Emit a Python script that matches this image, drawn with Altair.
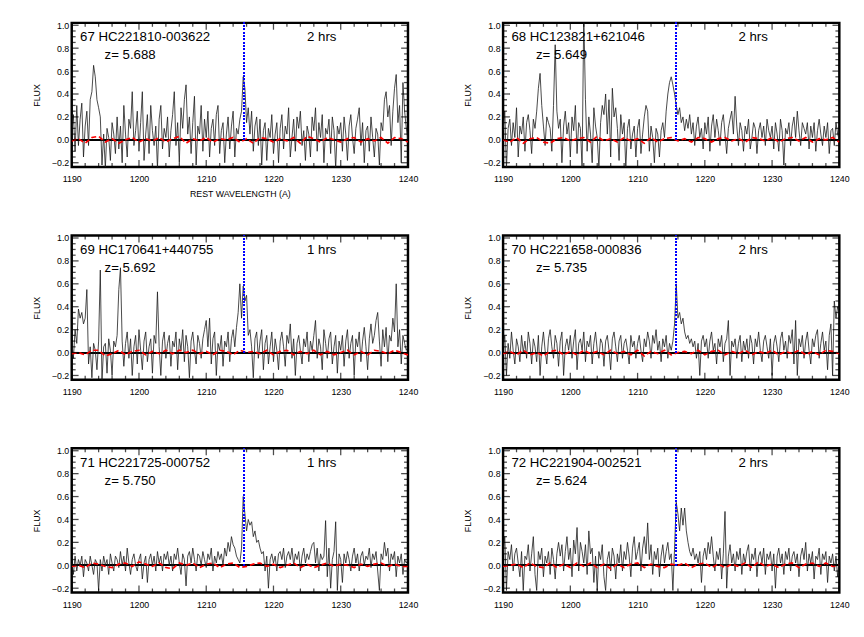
import altair as alt
import numpy as np
import pandas as pd

# ---------------- data ----------------
names = ["67 HC221810-003622", "68 HC123821+621046", "69 HC170641+440755",
         "70 HC221658-000836", "71 HC221725-000752", "72 HC221904-002521"]
redshifts = ["z= 5.688", "z= 5.649", "z= 5.692", "z= 5.735", "z= 5.750", "z= 5.624"]
hours = ["2 hrs", "2 hrs", "1 hrs", "2 hrs", "1 hrs", "2 hrs"]
lya = 1215.67

flux67 = [0.05, 0.22, -0.10, 0.30, -0.05, 0.18, 0.32, -0.15, 0.12, 0.25, -0.05, 0.35, 0.42, 0.65, 0.55, 0.35, 0.28, 0.20, -0.22, 0.05,
          -0.25, 0.10, 0.02, -0.18, 0.15, 0.05, -0.12, 0.20, -0.08, 0.12, -0.20, 0.30, 0.05, -0.15, 0.18, 0.10, 0.42, -0.05, 0.08, 0.25,
          -0.10, 0.15, 0.42, -0.18, 0.05, 0.22, -0.12, 0.30, 0.08, -0.05, 0.12, -0.25, 0.18, 0.30, -0.08, 0.10, 0.02, 0.20, -0.15, 0.08,
          0.22, 0.42, -0.05, 0.15, -0.20, 0.28, 0.10, 0.35, 0.48, 0.05, 0.20, -0.12, 0.15, 0.38, -0.22, 0.12, 0.05, 0.30, -0.10, 0.18,
          0.02, 0.25, -0.15, 0.10, 0.18, -0.05, 0.22, 0.30, -0.12, 0.08, 0.15, -0.20, 0.05, 0.20, -0.08, 0.12, 0.25, -0.15, 0.10, 0.05,
          0.18, 0.25, 0.55, 0.45, 0.15, 0.28, 0.05, 0.25, -0.10, 0.12, 0.20, -0.05, 0.18, -0.22, 0.08, 0.15, -0.18, 0.10, 0.02, 0.22,
          -0.12, 0.05, 0.15, -0.20, 0.10, 0.22, -0.08, 0.12, 0.05, 0.28, -0.15, 0.02, 0.18, -0.10, 0.20, 0.10, 0.25, -0.05, 0.08, -0.18,
          0.12, 0.05, -0.15, 0.20, 0.08, 0.28, -0.10, 0.15, 0.02, 0.22, -0.20, 0.10, 0.05, 0.18, -0.12, 0.20, 0.08, -0.25, 0.12, 0.05,
          0.15, -0.10, 0.20, 0.05, -0.18, 0.12, 0.22, 0.02, -0.12, 0.10, 0.18, 0.28, -0.05, 0.15, -0.20, 0.08, 0.12, -0.10, 0.20, 0.02,
          -0.15, 0.10, 0.05, -0.22, 0.15, 0.08, 0.35, 0.42, 0.20, 0.30, -0.05, 0.25, 0.45, 0.57, 0.15, 0.30, -0.20, 0.50, 0.25, 0.10,
          0.00]
flux68 = [0.08, 0.25, -0.25, 0.10, 0.18, -0.05, 0.15, 0.02, 0.28, -0.15, 0.12, 0.05, 0.20, -0.10, 0.15, 0.22, 0.08, -0.12, 0.18, 0.10,
          0.25, 0.45, 0.58, 0.30, 0.12, -0.05, 0.20, 0.15, 0.10, -0.10, 0.30, 0.83, 0.25, 0.10, 0.18, -0.20, 0.12, 0.25, 0.05, 0.15,
          -0.15, 0.20, 0.08, 0.30, -0.12, 0.15, 0.10, -0.25, 1.10, 0.35, -0.10, 0.20, 0.05, -0.20, 0.28, 0.12, 0.02, -0.25, 0.15, 0.30,
          0.22, 0.40, 0.05, 0.35, -0.15, 0.45, 0.20, 0.28, 0.10, -0.18, 0.22, 0.05, 0.15, -0.25, 0.10, 0.18, -0.08, 0.05, 0.12, -0.15,
          0.10, 0.18, -0.12, 0.05, 0.20, 0.30, 0.25, -0.10, 0.12, 0.02, -0.20, 0.10, 0.05, -0.15, 0.08, 0.15, 0.02, 0.25, 0.40, 0.50,
          0.55, 0.48, 0.40, 0.30, 0.22, 0.28, 0.15, 0.20, 0.08, 0.18, 0.10, 0.22, 0.05, 0.15, -0.05, 0.12, 0.20, 0.02, 0.10, -0.08,
          0.15, 0.05, 0.20, -0.10, 0.12, 0.22, 0.02, 0.18, 0.08, -0.05, 0.15, 0.22, 0.05, -0.12, 0.10, 0.18, 0.25, 0.05, 0.38, 0.12,
          -0.05, 0.15, 0.08, -0.10, 0.12, 0.05, 0.18, -0.08, 0.02, 0.15, 0.10, -0.12, 0.08, 0.15, 0.02, 0.12, -0.05, 0.18, 0.08, 0.02,
          0.12, -0.08, 0.15, 0.05, -0.10, 0.18, 0.08, -0.22, 0.10, 0.05, 0.15, -0.05, 0.12, 0.20, 0.02, 0.25, 0.08, -0.05, 0.15, 0.10,
          0.05, 0.15, -0.08, 0.12, 0.02, 0.15, -0.10, 0.08, 0.18, 0.05, -0.05, 0.12, 0.02, 0.15, -0.12, 0.08, 0.10, -0.05, 0.15, 0.05,
          0.00]
flux69 = [0.10, -0.05, 0.20, 0.08, 0.38, 0.30, 0.35, 0.25, 0.30, 0.55, -0.10, 0.05, -0.22, 0.08, 0.02, -0.15, 0.10, 0.72, -0.25, 0.05,
          0.08, -0.18, 0.12, 0.02, -0.20, 0.10, 0.05, 0.15, 0.55, 0.74, 0.10, -0.12, 0.08, 0.18, -0.05, 0.12, -0.20, 0.05, 0.15, -0.10,
          0.20, 0.02, -0.15, 0.10, 0.18, -0.08, 0.05, 0.12, -0.18, 0.15, 0.08, 0.53, 0.05, -0.20, 0.10, 0.18, -0.05, 0.08, 0.15, -0.12,
          0.10, 0.05, 0.18, -0.15, 0.12, 0.02, 0.20, -0.08, 0.15, 0.05, -0.22, 0.10, 0.18, 0.02, -0.10, 0.15, 0.08, -0.05, 0.12, 0.20,
          0.28, 0.05, 0.30, -0.10, 0.12, 0.18, -0.20, 0.08, 0.02, 0.15, -0.12, 0.10, 0.05, 0.18, -0.08, 0.12, 0.20, 0.05, 0.22, 0.35,
          0.60, 0.30, 0.58, 0.45, 0.50, 0.15, 0.20, 0.05, -0.22, 0.12, 0.18, -0.05, 0.10, 0.20, -0.15, 0.08, 0.15, -0.10, 0.05, 0.18,
          -0.08, 0.12, 0.02, -0.15, 0.10, 0.18, 0.05, -0.12, 0.15, 0.08, 0.25, -0.05, 0.12, -0.20, 0.08, 0.15, 0.02, -0.10, 0.12, 0.05,
          0.18, -0.08, 0.10, 0.02, 0.15, 0.28, -0.05, 0.12, 0.05, -0.15, 0.20, 0.08, -0.05, 0.12, 0.18, -0.10, 0.05, 0.15, -0.18, 0.10,
          0.02, 0.15, -0.12, 0.10, 0.20, -0.05, 0.08, 0.15, -0.20, 0.12, 0.05, 0.18, -0.08, 0.10, 0.22, 0.05, -0.15, 0.12, 0.25, 0.08,
          0.15, 0.28, 0.35, 0.10, -0.12, 0.20, 0.05, 0.22, -0.08, 0.15, 0.10, 0.30, 0.18, 0.60, 0.05, 0.20, -0.10, 0.15, 0.08, 0.02,
          0.05]
flux70 = [0.05, 0.15, -0.20, 0.08, -0.05, 0.18, 0.02, -0.10, 0.12, 0.05, -0.08, 0.15, 0.00, 0.10, -0.05, 0.18, 0.08, -0.10, 0.12, 0.05,
          -0.08, 0.15, -0.20, 0.05, 0.18, 0.02, -0.10, 0.12, 0.20, 0.05, -0.05, 0.15, 0.08, -0.12, 0.10, 0.18, -0.20, 0.05, 0.12, 0.02,
          0.15, -0.05, 0.10, 0.20, -0.15, 0.08, 0.12, 0.02, 0.18, -0.08, 0.10, 0.05, 0.15, -0.10, 0.08, 0.18, 0.02, -0.05, 0.12, 0.08,
          -0.12, 0.10, 0.15, 0.02, -0.15, 0.12, 0.18, 0.05, -0.08, 0.10, 0.15, -0.05, 0.08, 0.12, 0.02, -0.10, 0.15, 0.05, 0.10, -0.05,
          0.08, 0.15, 0.02, -0.08, 0.12, 0.05, 0.18, 0.10, -0.05, 0.15, 0.08, 0.20, 0.02, 0.10, -0.08, 0.12, 0.05, 0.15, -0.05, 0.08,
          0.02, 0.10, 0.25, 0.60, 0.30, 0.35, 0.25, 0.30, 0.18, 0.12, 0.15, 0.08, 0.12, 0.05, 0.10, -0.05, 0.08, -0.20, 0.10, 0.15,
          0.05, 0.12, -0.05, 0.10, 0.18, 0.02, 0.08, -0.10, 0.12, 0.05, 0.15, -0.08, 0.08, 0.12, 0.28, -0.20, 0.10, 0.05, 0.12, -0.05,
          0.08, 0.15, -0.08, 0.10, 0.02, 0.12, -0.05, 0.15, 0.08, -0.10, 0.12, 0.05, 0.18, 0.02, -0.08, 0.10, 0.15, 0.05, -0.05, 0.12,
          -0.20, 0.08, 0.15, 0.05, -0.08, 0.12, 0.18, 0.02, 0.10, -0.05, 0.15, 0.08, 0.20, -0.10, 0.28, -0.20, 0.12, 0.05, 0.15, -0.05,
          0.10, 0.18, 0.02, -0.10, 0.12, 0.05, 0.15, 0.20, -0.05, 0.08, 0.18, 0.02, 0.10, -0.15, 0.15, 0.25, -0.20, 0.45, 0.30, 0.40,
          0.35]
flux71 = [0.02, -0.08, 0.08, -0.05, 0.05, 0.00, 0.08, -0.10, 0.05, 0.02, -0.05, 0.08, 0.00, -0.08, 0.05, 0.02, -0.22, 0.05, -0.05, 0.08,
          0.00, 0.05, -0.08, 0.10, 0.02, -0.05, 0.08, 0.05, -0.02, 0.12, 0.00, 0.08, -0.05, 0.15, 0.02, -0.08, 0.05, 0.10, 0.00, -0.05,
          0.05, 0.10, -0.12, 0.02, 0.08, -0.15, 0.05, 0.10, 0.00, 0.08, -0.05, 0.12, 0.02, 0.08, -0.05, 0.10, 0.05, 0.12, 0.00, 0.08,
          -0.05, 0.10, 0.05, 0.15, 0.02, -0.08, 0.10, 0.05, -0.18, 0.08, 0.12, 0.02, 0.15, 0.05, -0.05, 0.10, 0.08, 0.00, 0.12, 0.05,
          -0.02, 0.10, 0.05, 0.15, -0.05, 0.08, 0.02, 0.12, 0.05, 0.10, 0.00, 0.15, 0.08, 0.20, 0.12, 0.25, 0.18, 0.15, 0.08, 0.05,
          0.02, 0.15, 0.60, 0.45, 0.30, 0.40, 0.35, 0.38, 0.25, 0.30, 0.20, 0.22, 0.15, 0.10, 0.12, -0.05, 0.08, -0.20, 0.05, 0.10,
          0.02, 0.08, -0.05, 0.10, 0.12, 0.05, 0.15, -0.02, 0.08, 0.12, 0.05, 0.15, 0.00, 0.10, 0.05, 0.12, -0.05, 0.08, 0.15, 0.02,
          0.10, 0.05, 0.12, 0.18, 0.20, 0.02, 0.15, -0.05, 0.10, 0.05, 0.08, 0.39, -0.10, 0.15, -0.20, 0.05, 0.12, 0.38, -0.22, 0.10,
          0.05, -0.15, 0.10, 0.02, 0.12, 0.05, -0.05, 0.08, 0.15, 0.02, 0.10, -0.05, 0.08, 0.12, 0.00, 0.08, 0.05, 0.15, -0.02, 0.10,
          0.05, 0.12, -0.05, -0.22, 0.10, 0.05, 0.20, 0.08, 0.15, -0.05, 0.10, 0.05, 0.12, -0.10, 0.08, 0.02, 0.10, -0.08, 0.05, 0.02,
          0.05]
flux72 = [0.10, 0.25, -0.22, 0.12, 0.05, 0.18, -0.05, 0.10, 0.15, 0.02, -0.10, 0.12, -0.22, 0.08, 0.05, 0.18, -0.05, 0.10, 0.25, -0.08,
          -0.22, 0.12, 0.05, 0.15, -0.10, 0.08, 0.02, 0.12, -0.08, 0.15, 0.05, -0.12, 0.10, 0.20, 0.08, 0.18, -0.05, 0.12, 0.25, 0.05,
          0.15, -0.10, 0.22, 0.10, 0.33, -0.05, 0.20, 0.12, 0.02, 0.18, -0.08, 0.30, 0.10, 0.15, -0.15, 0.08, -0.22, 0.12, 0.05, 0.18,
          -0.10, -0.22, 0.05, 0.12, -0.05, 0.15, 0.08, -0.12, 0.10, 0.02, 0.18, -0.05, 0.12, 0.05, 0.20, 0.08, -0.10, 0.15, 0.25, 0.05,
          0.12, 0.20, -0.05, 0.15, 0.25, 0.10, 0.37, 0.05, 0.18, -0.08, 0.12, 0.05, 0.15, -0.10, 0.08, 0.18, 0.02, 0.12, 0.20, 0.05,
          0.10, -0.22, 0.15, 0.55, 0.45, 0.30, 0.50, 0.35, 0.50, 0.30, 0.20, 0.12, 0.08, 0.15, 0.05, 0.10, 0.02, 0.12, -0.15, 0.08,
          0.15, 0.05, 0.20, 0.10, 0.25, 0.08, -0.05, 0.12, 0.05, 0.15, -0.12, 0.10, 0.47, -0.20, 0.08, 0.18, 0.02, 0.10, -0.05, 0.12,
          0.05, 0.15, -0.08, 0.10, 0.02, 0.12, 0.18, -0.05, 0.10, 0.05, 0.15, -0.10, 0.08, 0.12, 0.02, 0.15, -0.08, 0.10, 0.05, 0.12,
          -0.05, 0.10, -0.20, 0.08, 0.15, 0.02, 0.10, -0.08, 0.12, 0.05, 0.15, -0.05, 0.08, 0.12, 0.02, 0.10, -0.10, 0.08, 0.15, 0.05,
          0.20, -0.05, 0.10, 0.02, 0.12, -0.12, 0.08, 0.05, 0.15, -0.08, 0.10, 0.05, 0.12, -0.15, 0.08, 0.02, 0.10, -0.05, 0.08, -0.10,
          0.05]

red67 = [-0.01, 0.01, -0.03, 0.02, 0.03, -0.02, 0.01, -0.03, 0.00, 0.02, -0.02, 0.01, -0.01, 0.02, -0.02, 0.01, 0.03, -0.03, 0.01, -0.01,
         0.02, -0.02, 0.01, 0.00, 0.02, -0.02, 0.01, -0.03, 0.02, 0.01, -0.02, 0.01, -0.01, 0.02, -0.03, 0.03, 0.01, -0.02, 0.02, 0.00,
         -0.02, 0.01, 0.02, -0.02, 0.01, -0.01, 0.02, -0.03, 0.02, 0.01, -0.02]
red68 = [0.00, -0.02, 0.02, -0.03, 0.01, 0.02, -0.02, -0.03, 0.01, 0.02, -0.01, 0.01, 0.02, -0.02, 0.03, -0.01, 0.01, -0.02, 0.02, -0.01,
         0.01, -0.03, 0.02, -0.02, 0.01, 0.02, -0.01, 0.01, -0.02, 0.02, 0.01, -0.02, 0.01, 0.02, -0.01, 0.01, -0.02, 0.02, 0.01, -0.01,
         0.02, -0.02, 0.01, 0.02, -0.01, 0.02, -0.02, 0.01, 0.00, 0.02, -0.02]
red69 = [-0.01, 0.00, -0.02, 0.02, 0.02, -0.03, -0.01, 0.02, -0.02, 0.01, 0.02, -0.02, 0.01, -0.01, 0.02, -0.01, 0.02, 0.00, 0.02, -0.01,
         0.01, -0.02, 0.02, 0.01, -0.02, 0.02, 0.00, 0.01, -0.01, 0.02, -0.02, 0.01, 0.02, -0.02, 0.01, -0.01, 0.02, -0.02, 0.01, -0.02,
         0.00, 0.02, -0.02, 0.01, -0.02, 0.02, 0.01, -0.01, 0.02, 0.00, -0.02]
red70 = [-0.01, 0.01, -0.02, 0.02, -0.02, 0.00, -0.03, 0.01, 0.02, -0.02, 0.01, -0.02, 0.02, -0.01, 0.01, -0.02, 0.02, -0.01, 0.01, -0.02,
         0.02, -0.03, 0.01, -0.01, 0.02, -0.02, 0.00, 0.01, -0.01, 0.02, -0.02, 0.01, 0.02, -0.02, 0.01, -0.01, 0.02, -0.02, 0.01, -0.01,
         0.02, -0.02, 0.01, -0.01, 0.02, -0.02, 0.01, -0.02, 0.02, 0.01, -0.01]
red71 = [-0.01, 0.00, -0.02, 0.02, 0.01, -0.01, -0.02, 0.01, 0.02, -0.01, 0.03, 0.01, -0.01, 0.02, -0.02, -0.03, 0.02, 0.00, 0.02, -0.02,
         0.01, 0.02, -0.02, 0.01, 0.02, -0.02, -0.01, 0.01, 0.02, -0.01, 0.01, -0.02, 0.00, 0.02, -0.02, 0.01, -0.02, 0.00, 0.02, -0.01,
         0.01, 0.00, -0.02, 0.01, -0.01, 0.01, 0.02, -0.01, 0.01, -0.01, -0.01]
red72 = [-0.01, 0.00, 0.01, -0.02, 0.02, -0.01, -0.02, 0.02, -0.02, 0.01, -0.02, 0.02, -0.01, 0.02, -0.02, 0.01, -0.03, 0.01, -0.02, 0.01,
         0.02, -0.02, 0.01, -0.01, -0.02, 0.01, 0.00, 0.02, -0.02, 0.01, 0.02, -0.02, 0.01, -0.02, 0.01, -0.01, 0.02, -0.02, 0.03, -0.01,
         0.01, -0.02, 0.01, 0.02, -0.02, 0.01, 0.02, -0.01, 0.02, -0.01, 0.00]

fluxes = [flux67, flux68, flux69, flux70, flux71, flux72]
reds = [red67, red68, red69, red70, red71, red72]

x_labels = [1190, 1200, 1210, 1220, 1230, 1240]
y_labels = [-0.2, 0.0, 0.2, 0.4, 0.6, 0.8, 1.0]
x_minor = [1192, 1194, 1196, 1198, 1202, 1204, 1206, 1208, 1212, 1214, 1216, 1218,
           1222, 1224, 1226, 1228, 1232, 1234, 1236, 1238]
y_minor = [-0.15, -0.1, -0.05, 0.05, 0.1, 0.15, 0.25, 0.3, 0.35, 0.45, 0.5, 0.55,
           0.65, 0.7, 0.75, 0.85, 0.9, 0.95]

# ---------------- chart ----------------
W, H = 343, 147
FONT = "Liberation Sans"
xs = alt.Scale(domain=[1190, 1240], nice=False, zero=False)
ys = alt.Scale(domain=[-0.237, 1.021], nice=False, zero=False)


def panel(i, xtitle):
    xaxis = alt.Axis(values=x_labels, format="d", labelFlush=False, labelPadding=8,
                     labelOverlap=False, title=xtitle, titlePadding=6)
    yaxis = alt.Axis(values=y_labels, format=".1f", labelPadding=3, title="FLUX",
                     titlePadding=10, labelOverlap=False)
    X = lambda f: alt.X(f, type="quantitative", scale=xs, axis=xaxis)
    Y = lambda f: alt.Y(f, type="quantitative", scale=ys, axis=yaxis)

    spec = pd.DataFrame({"w": np.linspace(1190, 1240, len(fluxes[i])), "f": fluxes[i]})
    err = pd.DataFrame({"w": np.linspace(1190, 1240, len(reds[i])), "f": reds[i]})

    zero = alt.Chart(spec).mark_rule(color="black", strokeWidth=0.8).encode(
        x=alt.value(0), x2=alt.value(W), y=alt.Y(datum=0, scale=ys, axis=yaxis))
    line = alt.Chart(spec).mark_line(color="#1a1a1a", strokeWidth=0.8, clip=True,
                                     interpolate="linear").encode(x=X("w"), y=Y("f"))
    red = alt.Chart(err).mark_line(color="red", strokeWidth=1.7, strokeDash=[5, 3],
                                   clip=True).encode(x=X("w"), y=Y("f"))
    blue = alt.Chart(spec).mark_rule(color="blue", strokeWidth=1.2, strokeDash=[1.2, 2.2]).encode(
        x=alt.X(datum=lya, scale=xs, axis=xaxis), y=alt.Y(datum=0, scale=ys, axis=yaxis),
        y2=alt.Y2(datum=1.021))

    ymaj = pd.DataFrame({"v": y_labels})
    ymin = pd.DataFrame({"v": y_minor})
    xmaj = pd.DataFrame({"v": x_labels})
    xmin = pd.DataFrame({"v": x_minor})
    ticks = []
    for d, L in ((ymaj, 7), (ymin, 4)):
        for xpos in (L / 2, W - L / 2):
            ticks.append(alt.Chart(d).mark_tick(color="black", orient="horizontal", size=L,
                                                thickness=1.3).encode(y=Y("v"), x=alt.value(xpos)))
    for d, L in ((xmaj, 7), (xmin, 4)):
        for ypos in (L / 2, H - L / 2):
            ticks.append(alt.Chart(d).mark_tick(color="black", orient="vertical", size=L,
                                                thickness=1.3).encode(x=X("v"), y=alt.value(ypos)))

    tdf = pd.DataFrame({"n": [names[i]], "z": [redshifts[i]], "h": [hours[i]]})
    t1 = alt.Chart(tdf).mark_text(align="left", baseline="alphabetic", font=FONT, fontSize=13.5,
                                  color="black").encode(text="n:N", x=alt.value(8.5), y=alt.value(19))
    t2 = alt.Chart(tdf).mark_text(align="left", baseline="alphabetic", font=FONT, fontSize=13.5,
                                  color="black").encode(text="z:N", x=alt.value(33.5), y=alt.value(37))
    t3 = alt.Chart(tdf).mark_text(align="center", baseline="alphabetic", font=FONT, fontSize=13.5,
                                  color="black").encode(text="h:N", x=alt.value(255), y=alt.value(19))

    return alt.layer(zero, line, red, blue, *ticks, t1, t2, t3).properties(width=W, height=H)


p = [panel(0, "REST WAVELENGTH (A)")] + [panel(i, "") for i in range(1, 6)]

row1 = alt.hconcat(p[0], p[1], spacing=43)
row2 = alt.hconcat(p[2], p[3], spacing=43)
row3 = alt.hconcat(p[4], p[5], spacing=43)
rows23 = alt.vconcat(row2, row3, spacing=48)
chart = alt.vconcat(row1, rows23, spacing=33).properties(
    padding={"left": 23, "top": 6, "right": 5, "bottom": 5}
).configure_view(stroke="black", strokeWidth=2.5).configure_axis(
    grid=False, ticks=False, domain=False, labelFont=FONT, labelFontSize=9, labelColor="black",
    titleFont=FONT, titleFontSize=9, titleFontWeight="normal", titleColor="black"
).configure_concat(spacing=0)

chart.save("out.html", embed_options={"renderer": "svg", "actions": False})
